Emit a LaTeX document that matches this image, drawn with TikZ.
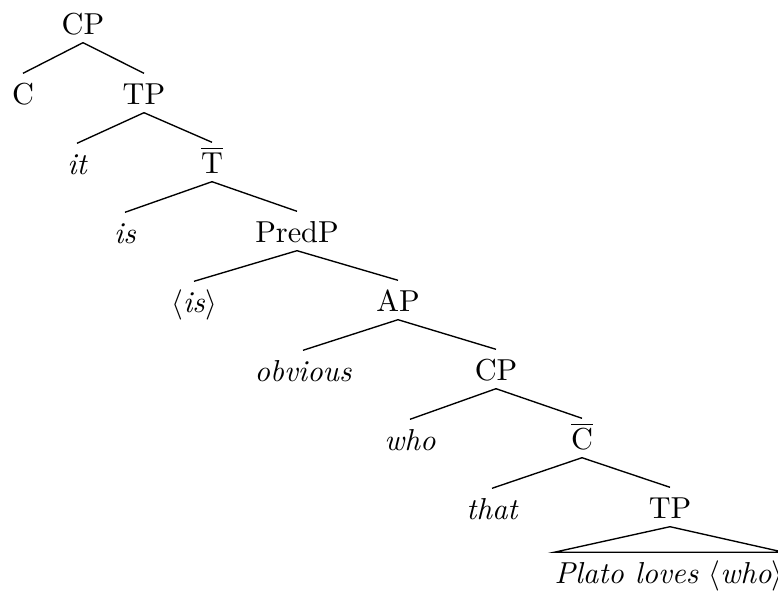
\documentclass[tikz,border=0pt]{standalone}
\usepackage{amsmath}
\usepackage{tikz}
\usetikzlibrary{positioning}
\tikzset{
  cat/.style={inner sep=0pt, text height=10pt, text depth=2.6pt},
  leaf/.style={cat, font=\itshape},
  branch/.style={line width=0.45pt}
}

\begin{document}
\begin{tikzpicture}[x=0.33pt, y=-0.33pt]
        \useasboundingbox (0,0) rectangle (778,591);
        \clip (0,0) rectangle (778,591);
        % Nodes
        \node[cat] (CP) at (83, 23) {CP};
        \node[cat] (C) at (23, 93) {C};
        \node[cat] (TP) at (144, 93) {TP};
        \node[leaf] (it) at (77, 163) {it};
        \node[cat] (Tbar) at (212, 162) {$\overline{\mathrm{T}}$};
        \node[leaf] (is) at (125, 232) {is};
        \node[cat] (PredP) at (297, 231) {PredP};
        \node[cat] (isCopy) at (194, 301) {$\langle$\textit{is}$\rangle$};
        \node[cat] (AP) at (398, 300) {AP};
        \node[leaf] (obvious) at (303, 370) {obvious};
        \node[cat] (CPlow) at (496, 369) {CP};
        \node[leaf] (who) at (410, 439) {who};
        \node[cat] (Cbar) at (582, 438) {$\overline{\mathrm{C}}$};
        \node[leaf] (that) at (492, 508) {that};
        \node[cat] (TPlow) at (670, 507) {TP};
        \node[cat, anchor=west] (Plato) at (554, 572) {\textit{Plato loves} $\langle$\textit{who}$\rangle$};

        % Branches
        \draw[branch] (CP.south) -- (C.north);
        \draw[branch] (CP.south) -- (TP.north);
        \draw[branch] (TP.south) -- (it.north);
        \draw[branch] (TP.south) -- (Tbar.north);
        \draw[branch] (Tbar.south) -- (is.north);
        \draw[branch] (Tbar.south) -- (PredP.north);
        \draw[branch] (PredP.south) -- (isCopy.north);
        \draw[branch] (PredP.south) -- (AP.north);
        \draw[branch] (AP.south) -- (obvious.north);
        \draw[branch] (AP.south) -- (CPlow.north);
        \draw[branch] (CPlow.south) -- (who.north);
        \draw[branch] (CPlow.south) -- (Cbar.north);
        \draw[branch] (Cbar.south) -- (that.north);
        \draw[branch] (Cbar.south) -- (TPlow.north);
        % Roof
        \draw[branch] (TPlow.south) -- (Plato.north west) -- (Plato.north east) -- cycle;
\end{tikzpicture}
\end{document}
